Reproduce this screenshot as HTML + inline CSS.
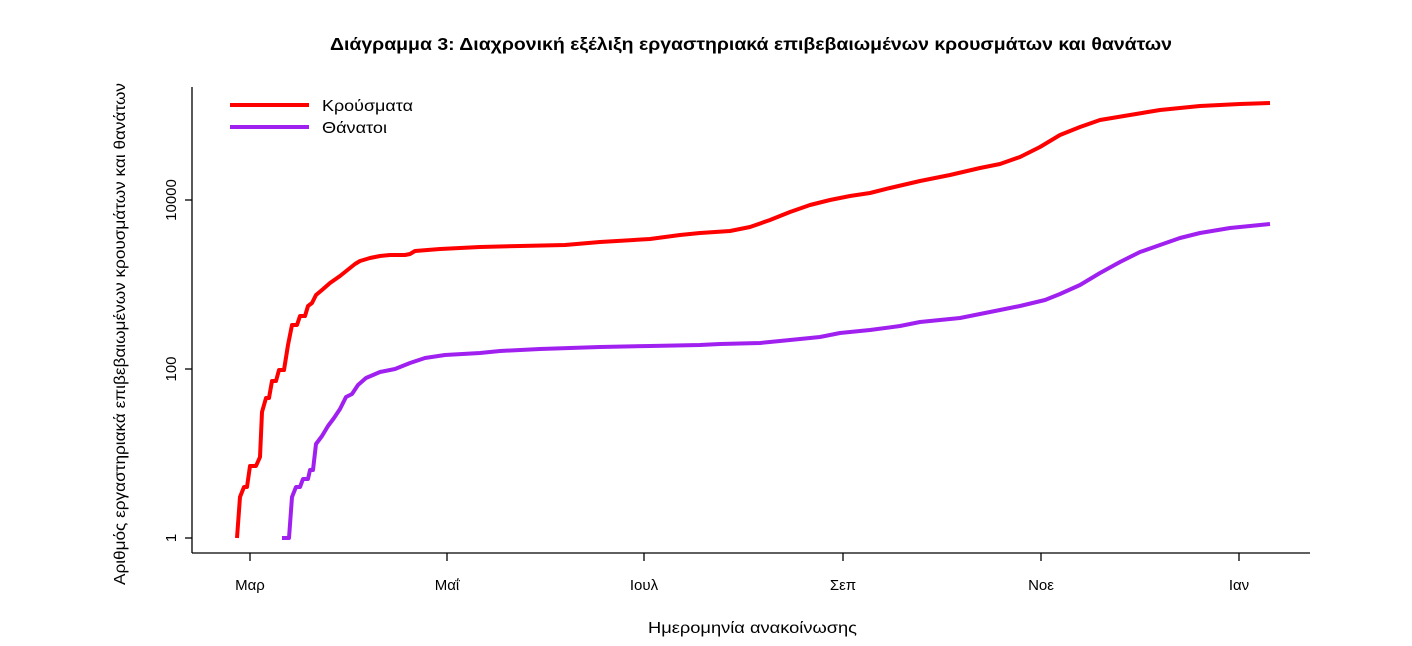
<!DOCTYPE html>
<html><head><meta charset="utf-8"><style>
body{margin:0;background:#fff;}
svg{display:block;font-family:"Liberation Sans","DejaVu Sans",sans-serif;}
</style></head><body>
<svg width="1412" height="646" viewBox="0 0 1412 646" xmlns="http://www.w3.org/2000/svg">
<rect width="1412" height="646" fill="#fff"/>
<text x="330" y="50" font-size="17.5" font-weight="bold" fill="#000" textLength="842" lengthAdjust="spacingAndGlyphs">Διάγραμμα 3: Διαχρονική εξέλιξη εργαστηριακά επιβεβαιωμένων κρουσμάτων και θανάτων</text>
<g stroke="#000" stroke-width="1.3" fill="none">
<line x1="192" y1="87" x2="192" y2="553"/>
<line x1="192" y1="553" x2="1310" y2="553"/>
<line x1="185" y1="538" x2="192" y2="538"/>
<line x1="185" y1="369" x2="192" y2="369"/>
<line x1="185" y1="200" x2="192" y2="200"/>
<line x1="250" y1="553" x2="250" y2="561"/>
<line x1="447" y1="553" x2="447" y2="561"/>
<line x1="644" y1="553" x2="644" y2="561"/>
<line x1="843" y1="553" x2="843" y2="561"/>
<line x1="1041" y1="553" x2="1041" y2="561"/>
<line x1="1239" y1="553" x2="1239" y2="561"/>
</g>
<g font-size="15" fill="#000" text-anchor="middle">
<text transform="translate(176,538) rotate(-90)">1</text>
<text transform="translate(176,369) rotate(-90)">100</text>
<text transform="translate(176,200) rotate(-90)">10000</text>
<text x="250" y="590">Μαρ</text>
<text x="447" y="590">Μαΐ</text>
<text x="644" y="590">Ιουλ</text>
<text x="843" y="590">Σεπ</text>
<text x="1041" y="590">Νοε</text>
<text x="1239" y="590">Ιαν</text>
</g>
<text x="648" y="633" font-size="15.5" fill="#000" textLength="209" lengthAdjust="spacingAndGlyphs">Ημερομηνία ανακοίνωσης</text>
<text transform="translate(125,585) rotate(-90)" font-size="15.5" fill="#000" textLength="502" lengthAdjust="spacingAndGlyphs">Αριθμός εργαστηριακά επιβεβαιωμένων κρουσμάτων και θανάτων</text>
<polyline fill="none" stroke="#ff0000" stroke-width="4" stroke-linejoin="round" points="237,538 240,497 244,487 247,487 250,466 256,466 260,457 262,412 266,398 269,398 272,381 276,381 279,370 284,370 288,345 292,325 297,325 300,316 305,316 308,306 312,303 316,295 322,290 330,283 340,276 350,268 355,264 360,261 370,258 380,256 390,255 405,255 410,254 415,251 440,249 480,247 520,246 565,245 600,242 650,239 680,235 700,233 730,231 750,227 770,220 790,212 810,205 830,200 850,196 870,193 890,188 920,181 950,175 980,168 1000,164 1020,157 1040,147 1060,135 1080,127 1100,120 1130,115 1160,110 1200,106 1240,104 1270,103"/>
<polyline fill="none" stroke="#a020f0" stroke-width="4" stroke-linejoin="round" points="282,538 289,538 292,497 296,487 300,487 303,479 308,479 310,470 313,470 316,444 322,436 328,426 334,418 340,409 346,397 352,394 358,385 366,378 380,372 395,369 410,363 425,358 445,355 480,353 500,351 540,349 600,347 650,346 700,345 720,344 760,343 780,341 820,337 840,333 870,330 900,326 920,322 960,318 980,314 1000,310 1020,306 1045,300 1060,294 1080,285 1100,273 1120,262 1140,252 1160,245 1180,238 1200,233 1230,228 1270,224"/>
<line x1="230" y1="105" x2="309" y2="105" stroke="#ff0000" stroke-width="4"/>
<line x1="230" y1="127" x2="309" y2="127" stroke="#a020f0" stroke-width="4"/>
<text x="322" y="111" font-size="15.5" fill="#000" textLength="91" lengthAdjust="spacingAndGlyphs">Κρούσματα</text>
<text x="322" y="133" font-size="15.5" fill="#000" textLength="65" lengthAdjust="spacingAndGlyphs">Θάνατοι</text>
</svg>
</body></html>
